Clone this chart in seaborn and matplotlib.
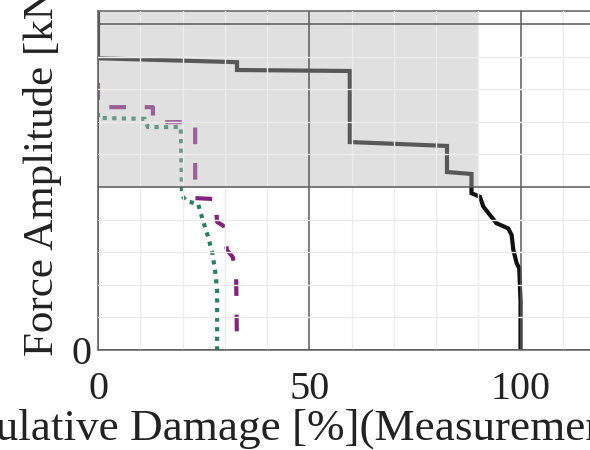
import matplotlib
matplotlib.use("Agg")
import matplotlib.pyplot as plt
import numpy as np
import seaborn as sns

# Measured path: cumulative damage [%] against force amplitude [kN]
meas_damage = [0, 0, 32.9, 32.9, 59.6, 59.6, 82.6, 82.6, 88.4, 88.4, 90.4,
               91.2, 94.3, 97.1, 97.9, 98.3, 99.1, 99.7, 100, 100]
meas_force = [11, 8.95, 8.83, 8.59, 8.56, 6.38, 6.26, 5.46, 5.40, 4.81, 4.70,
              4.40, 3.89, 3.73, 3.53, 3.07, 2.66, 2.51, 1.5, 0]

# First estimated path (dashed)
est_a_damage = [0, 0, 13.0, 13.0, 23.0, 23.0, 27.7, 28.2, 29.8, 30.5, 31.9,
                32.7, 32.9]
est_a_force = [8.19, 7.45, 7.45, 6.99, 6.99, 4.66, 4.63, 3.93, 3.80, 3.07,
               2.85, 2.30, 0]

# Second estimated path (dotted)
est_b_damage = [0, 0, 11.1, 11.8, 19.6, 19.9, 20.8, 23.7, 24.8, 26.0, 27.0,
                27.7, 28.2, 28.2]
est_b_force = [7.27, 7.12, 7.09, 6.84, 6.84, 4.75, 4.57, 4.48, 3.99, 3.50,
               3.01, 2.45, 1.84, 0]

# Highlighted high-amplitude band
band_damage = [0, 90]
band_low = 5.0
band_high = 10.4

x_ticks = [0, 50, 100]
x_tick_labels = ["0", "50", "100"]
y_ticks = [0, 5, 10]
y_tick_labels = ["0", "", ""]

sns.set_theme(style="white")
plt.rcParams["font.family"] = ["Liberation Serif", "DejaVu Serif"]

fig = plt.figure(figsize=(5.9, 4.5), dpi=100)
ax = fig.add_axes([98 / 590, 100 / 450, 507 / 590, 339 / 450])

sns.lineplot(x=meas_damage, y=meas_force, sort=False, estimator=None,
             color="#111111", lw=3.0, solid_joinstyle="miter", ax=ax,
             zorder=2.0)
sns.lineplot(x=est_a_damage, y=est_a_force, sort=False, estimator=None,
             color="#84207e", lw=3.0, linestyle=(0, (4, 4.5)), ax=ax,
             zorder=2.0)
sns.lineplot(x=est_b_damage, y=est_b_force, sort=False, estimator=None,
             color="#2a7f62", lw=3.0, linestyle=(0, (1, 1.3)), ax=ax,
             zorder=2.0)

ax.fill_between(band_damage, band_low, band_high, color=(0.72, 0.72, 0.72),
                alpha=0.43, lw=0, zorder=2.2)

ax.set_xlim(0, 120)
ax.set_ylim(0, band_high)

ax.set_xticks(x_ticks)
ax.set_xticklabels(x_tick_labels)
ax.set_xticks(np.arange(0, 121, 10), minor=True)
ax.set_yticks(y_ticks)
ax.set_yticklabels(y_tick_labels)
ax.set_yticks(np.arange(0, 11, 1), minor=True)

ax.set_axisbelow(False)
ax.grid(which="major", color="#5a5a5a", lw=1.1)
ax.grid(which="minor", color="#ececec", lw=1.0)

ax.tick_params(axis="both", which="both", length=0, labelsize=29,
               colors="#222222")
ax.tick_params(axis="x", pad=15)
ax.tick_params(axis="y", pad=5)

for side in ["left", "bottom", "top", "right"]:
    ax.spines[side].set_color("#777777")
    ax.spines[side].set_linewidth(1.3)

ax.set_xlabel("Cumulative Damage [%](Measurement)", fontsize=32.5,
              color="#222222", ha="left", va="baseline")
ax.xaxis.set_label_coords(-190 / 507, -90 / 339)

ax.set_ylabel("Force Amplitude [kN]", fontsize=31, color="#222222")
ax.yaxis.set_label_coords(-36 / 507, 0.545)

fig.savefig("out.png", dpi=100)
